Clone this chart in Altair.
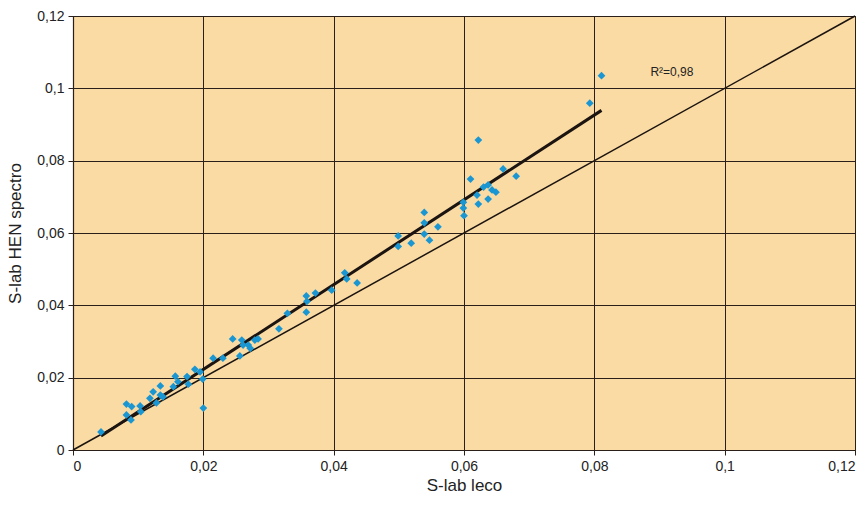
import altair as alt
import pandas as pd

# Sulphur content: LECO analyser (x) versus HEN spectrometer (y)
s_leco = [
    0.0043, 0.0082, 0.0090, 0.0082, 0.0089, 0.0103, 0.0104, 0.0118, 0.0123, 0.0128,
    0.0134, 0.0134, 0.0138, 0.0157, 0.0154, 0.0161, 0.0175, 0.0177, 0.0187, 0.0195,
    0.0199, 0.0200, 0.0215, 0.0230, 0.0245, 0.0256, 0.0259, 0.0261, 0.0269, 0.0272,
    0.0279, 0.0284, 0.0316, 0.0329, 0.0358, 0.0359, 0.0358, 0.0372, 0.0397, 0.0417,
    0.0420, 0.0436, 0.0499, 0.0499, 0.0519, 0.0539, 0.0539, 0.0539, 0.0547, 0.0560,
    0.0599, 0.0599, 0.0600, 0.0610, 0.0620, 0.0622, 0.0630, 0.0637, 0.0637, 0.0643,
    0.0649, 0.0660, 0.0680, 0.0622, 0.0793, 0.0811,
]
s_hen = [
    0.0050, 0.0127, 0.0120, 0.0097, 0.0083, 0.0122, 0.0106, 0.0143, 0.0161, 0.0130,
    0.0177, 0.0152, 0.0147, 0.0204, 0.0175, 0.0189, 0.0203, 0.0182, 0.0223, 0.0216,
    0.0196, 0.0116, 0.0254, 0.0254, 0.0307, 0.0260, 0.0304, 0.0290, 0.0290, 0.0281,
    0.0304, 0.0307, 0.0335, 0.0378, 0.0426, 0.0411, 0.0381, 0.0434, 0.0442, 0.0490,
    0.0473, 0.0462, 0.0592, 0.0563, 0.0572, 0.0657, 0.0628, 0.0597, 0.0580, 0.0617,
    0.0685, 0.0669, 0.0648, 0.0749, 0.0705, 0.0680, 0.0727, 0.0694, 0.0733, 0.0719,
    0.0713, 0.0777, 0.0757, 0.0857, 0.0959, 0.1035,
]

axis_max = 0.12
r2_label = "R²=0,98"
r2_pos = (0.0886, 0.1045)

points = pd.DataFrame({"leco": s_leco, "hen": s_hen})
identity = pd.DataFrame({"leco": [0.0, axis_max], "hen": [0.0, axis_max]})
note = pd.DataFrame({"leco": [r2_pos[0]], "hen": [r2_pos[1]], "txt": [r2_label]})

label_expr = "replace(format(datum.value, '~g'), '.', ',')"
tick_values = [0, 0.02, 0.04, 0.06, 0.08, 0.1, 0.12]

x_enc = alt.X(
    "leco:Q",
    scale=alt.Scale(domain=[0, axis_max], nice=False),
    axis=alt.Axis(values=tick_values, labelExpr=label_expr, title="S-lab leco",
                  titlePadding=4),
)
y_enc = alt.Y(
    "hen:Q",
    scale=alt.Scale(domain=[0, axis_max], nice=False),
    axis=alt.Axis(values=tick_values, labelExpr=label_expr, title="S-lab HEN spectro",
                  titlePadding=12),
)

scatter = alt.Chart(points).mark_point(
    shape="diamond", filled=True, size=60, color="#1A96D2", opacity=1
).encode(x=x_enc, y=y_enc)

fit = alt.Chart(points).transform_regression("leco", "hen").mark_line(
    color="#1c1410", strokeWidth=3
).encode(x="leco:Q", y="hen:Q")

diag = alt.Chart(identity).mark_line(color="#1c1410", strokeWidth=1.5).encode(
    x="leco:Q", y="hen:Q"
)

r2 = alt.Chart(note).mark_text(
    align="left", baseline="middle", fontSize=12, font="Liberation Sans", color="#222"
).encode(x="leco:Q", y="hen:Q", text="txt:N")

chart = (
    alt.layer(diag, fit, scatter, r2)
    .properties(
        width=782,
        height=434,
        autosize=alt.AutoSizeParams(type="none"),
        padding={"left": 73, "top": 16, "right": 10, "bottom": 70},
        background="white",
    )
    .configure_view(fill="#FADBA4", stroke="#2b2019", strokeWidth=1)
    .configure_axis(
        gridColor="#2b2019",
        gridOpacity=1,
        gridWidth=1,
        domainColor="#2b2019",
        domainWidth=1.2,
        tickColor="#2b2019",
        tickSize=5,
        labelFont="Liberation Sans",
        labelFontSize=14,
        labelColor="#222",
        titleFont="Liberation Sans",
        titleFontSize=17,
        titleFontWeight="normal",
        titleColor="#222",
        labelPadding=4,
    )
)

chart.save("out.html", embed_options={"renderer": "svg", "actions": False})
